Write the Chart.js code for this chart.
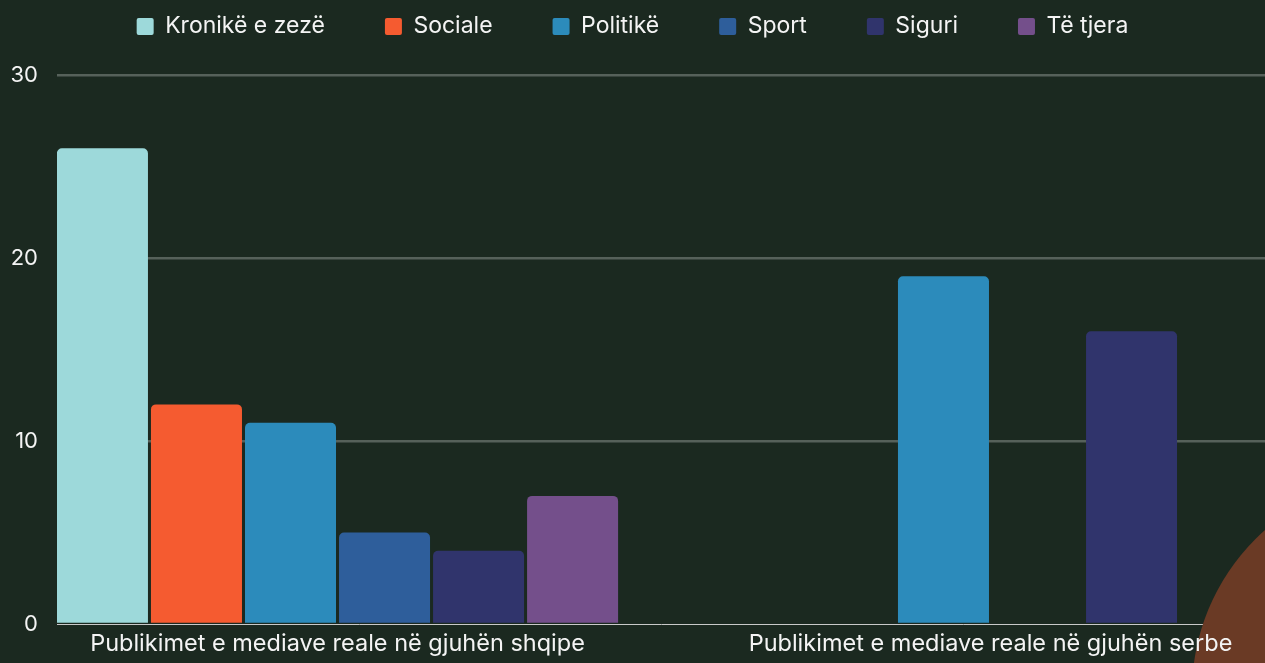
<!DOCTYPE html>
<html lang="sq">
<head>
<meta charset="UTF-8" />
<title>Publikimet sipas temës</title>
<script src="https://cdn.jsdelivr.net/npm/chart.js"></script>
<style>
  html, body { margin: 0; padding: 0; background: #1b2920; overflow: hidden; }
  #wrap { position: relative; width: 1265px; height: 663px; }
</style>
</head>
<body>
<div id="wrap"><canvas id="chart"></canvas></div>
<script>
const categories = ['Publikimet e mediave reale në gjuhën shqipe', 'Publikimet e mediave reale në gjuhën serbe'];
const topics = ['Kronikë e zezë', 'Sociale', 'Politikë', 'Sport', 'Siguri', 'Të tjera'];
const shqipe = [26, 12, 11, 5, 4, 7];
const serbe = [0, 0, 19, 0, 16, 0];
const colors = ['#9dd9da', '#f55b30', '#2c8bbb', '#2e5e9b', '#30346c', '#744f8b'];

const textColor = '#f4f4f4';
Chart.defaults.font.family = 'Inter, "Noto Sans", sans-serif';
Chart.defaults.font.size = 22;
Chart.defaults.color = textColor;

// bars sit on a linear x axis so the right part of the plot runs past the window edge
const datasets = topics.map((t, i) => ({
  label: t,
  data: [{ x: 0, y: shqipe[i] }, { x: 1, y: serbe[i] }],
  backgroundColor: colors[i],
  borderWidth: 0,
  borderRadius: 5,
  categoryPercentage: 0.864,
  barPercentage: 0.968
}));

// decorative disc in the bottom right corner
const cornerDisc = {
  id: 'cornerDisc',
  beforeDatasetsDraw(chart) {
    const ctx = chart.ctx;
    ctx.save();
    ctx.fillStyle = '#6a3a25';
    ctx.beginPath();
    ctx.arc(chart.width + 143, chart.height + 29, 216, 0, Math.PI * 2);
    ctx.fill();
    ctx.restore();
  }
};

// legend needs wide item spacing but little space above it
const legendSpace = {
  id: 'legendSpace',
  beforeInit(chart) {
    const fit = chart.legend.fit;
    chart.legend.fit = function () {
      fit.call(this);
      this.height = 120;
    };
  }
};

new Chart(document.getElementById('chart'), {
  type: 'bar',
  data: { datasets },
  plugins: [cornerDisc, legendSpace],
  options: {
    responsive: true,
    maintainAspectRatio: false,
    animation: false,
    layout: { padding: { top: -45, left: 0, right: 0, bottom: 0 } },
    plugins: {
      legend: {
        position: 'top',
        labels: {
          boxWidth: 17,
          boxHeight: 17,
          padding: 60,
          useBorderRadius: true,
          borderRadius: 2,
          color: textColor,
          font: { size: 23 }
        }
      },
      tooltip: { enabled: false }
    },
    scales: {
      x: {
        type: 'linear',
        min: -0.4296,
        max: 1.4204,
        offset: false,
        afterBuildTicks: (scale) => {
          scale.ticks = categories.map((c, i) => ({ value: i }));
        },
        afterFit: (scale) => { scale.height = 39; },
        ticks: {
          callback: (v) => categories[v],
          maxRotation: 0,
          autoSkip: false,
          padding: 6,
          z: 1,
          color: textColor,
          font: { size: 23.5 }
        },
        grid: { display: false, drawTicks: false, tickLength: 0 },
        border: { display: true, color: '#c9c9c9', width: 1 }
      },
      y: {
        min: 0,
        max: 30,
        afterFit: (scale) => { scale.width = 57; },
        ticks: {
          stepSize: 10,
          padding: 19,
          color: textColor,
          font: { size: 22 }
        },
        grid: {
          color: (ctx) => ctx.tick && ctx.tick.value === 0 ? 'rgba(0,0,0,0)' : '#56615a',
          lineWidth: 2.5,
          drawTicks: false,
          tickLength: 0
        },
        border: { display: false }
      }
    }
  }
});
</script>
</body>
</html>
